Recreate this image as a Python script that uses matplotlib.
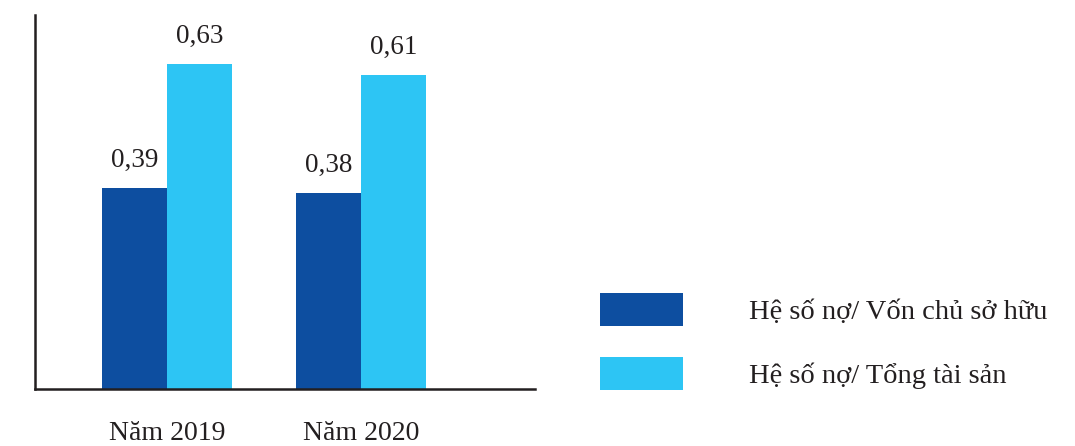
import numpy as np
import matplotlib
matplotlib.use("Agg")
import matplotlib.pyplot as plt

plt.rcParams['font.family'] = ['Liberation Serif', 'DejaVu Serif']

years = ['Năm 2019', 'Năm 2020']
debt_equity = [0.39, 0.38]
debt_assets = [0.63, 0.61]
series_names = ['Hệ số nợ/ Vốn chủ sở hữu', 'Hệ số nợ/ Tổng tài sản']

dark_blue = '#0d4ea0'
light_blue = '#2dc5f4'
text_col = '#231f20'

fig = plt.figure(figsize=(10.75, 4.46), dpi=100)
ax = fig.add_axes([35 / 1075, 57 / 446, 500 / 1075, 374 / 446])

x = np.arange(len(years))
w = 0.335
b1 = ax.bar(x - w / 2, debt_equity, w, color=dark_blue, label=series_names[0])
b2 = ax.bar(x + w / 2, debt_assets, w, color=light_blue, label=series_names[1])

# nhãn giá trị dạng dấu phẩy thập phân
for bars, vals in ((b1, debt_equity), (b2, debt_assets)):
    ax.bar_label(bars, labels=[('%.2f' % v).replace('.', ',') for v in vals],
                 padding=11, fontsize=19.5, color=text_col)

ax.set_xlim(-0.68, 1.897)
ax.set_ylim(0, 0.726)
ax.set_xticks(x)
ax.set_xticklabels(years, fontsize=20, color=text_col)
ax.tick_params(axis='x', length=0, pad=23)
ax.set_yticks([])
for s in ['top', 'right']:
    ax.spines[s].set_visible(False)
for s in ['left', 'bottom']:
    ax.spines[s].set_color(text_col)
    ax.spines[s].set_linewidth(1.8)

leg = fig.legend(loc='upper left', bbox_to_anchor=(600 / 1075, 1 - 293 / 446),
                 frameon=False, fontsize=20.5, handlelength=2.9, handleheight=1.4,
                 handletextpad=2.35, labelspacing=1.1, borderpad=0, borderaxespad=0)
for t in leg.get_texts():
    t.set_color(text_col)

fig.savefig('out.png', dpi=100)
